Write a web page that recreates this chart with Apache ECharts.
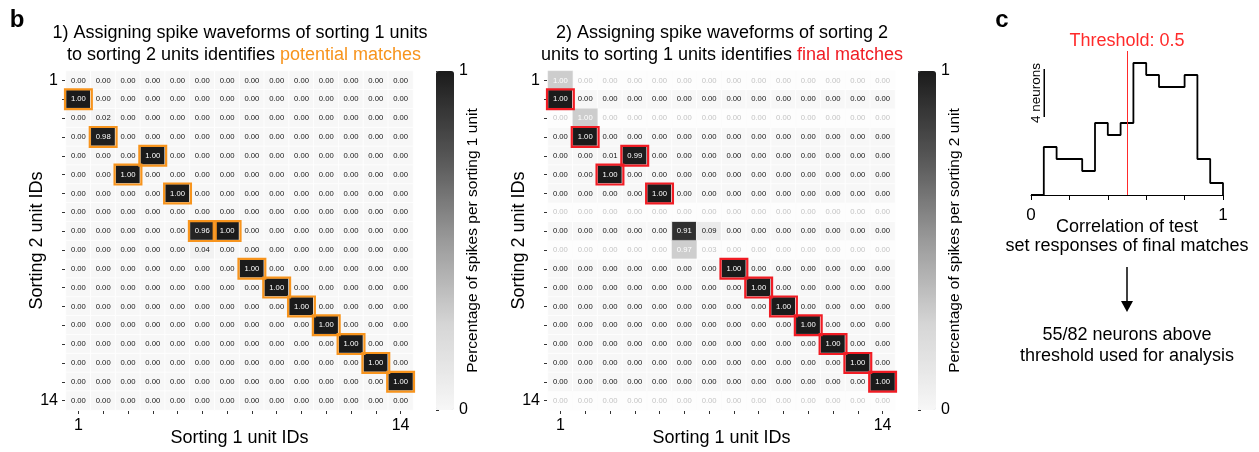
<!DOCTYPE html>
<html>
<head>
<meta charset="utf-8">
<script src="https://cdn.jsdelivr.net/npm/echarts@6/dist/echarts.min.js"></script>
<style>
  html, body { margin: 0; padding: 0; background: #ffffff; }
  #chart { width: 1259px; height: 452px; }
</style>
</head>
<body>
<div id="chart"></div>
<script>
const FONT = '"Liberation Sans", Arial, Helvetica, sans-serif';

// Unit IDs: columns are sorting 1 units, rows are sorting 2 units
const sorting1Ids = ['1','2','3','4','5','6','7','8','9','10','11','12','13','14'];
const sorting2Ids = ['1','2','3','4','5','6','7','8','9','10','11','12','13','14','15','16','17','18'];
const xTickLabels = ['1','','','','','','','','','','','','','14'];
const yTickLabels = ['1','','','','','','','','','','','','','','','','','14'];

// Fraction of spikes of each sorting 1 unit assigned to each sorting 2 unit (row = sorting 2 unit)
const spikes1to2 = [
  [0,0,0,0,0,0,0,0,0,0,0,0,0,0],
  [1,0,0,0,0,0,0,0,0,0,0,0,0,0],
  [0,0.02,0,0,0,0,0,0,0,0,0,0,0,0],
  [0,0.98,0,0,0,0,0,0,0,0,0,0,0,0],
  [0,0,0,1,0,0,0,0,0,0,0,0,0,0],
  [0,0,1,0,0,0,0,0,0,0,0,0,0,0],
  [0,0,0,0,1,0,0,0,0,0,0,0,0,0],
  [0,0,0,0,0,0,0,0,0,0,0,0,0,0],
  [0,0,0,0,0,0.96,1,0,0,0,0,0,0,0],
  [0,0,0,0,0,0.04,0,0,0,0,0,0,0,0],
  [0,0,0,0,0,0,0,1,0,0,0,0,0,0],
  [0,0,0,0,0,0,0,0,1,0,0,0,0,0],
  [0,0,0,0,0,0,0,0,0,1,0,0,0,0],
  [0,0,0,0,0,0,0,0,0,0,1,0,0,0],
  [0,0,0,0,0,0,0,0,0,0,0,1,0,0],
  [0,0,0,0,0,0,0,0,0,0,0,0,1,0],
  [0,0,0,0,0,0,0,0,0,0,0,0,0,1],
  [0,0,0,0,0,0,0,0,0,0,0,0,0,0]
];

// Fraction of spikes of each sorting 2 unit assigned to each sorting 1 unit
const spikes2to1 = [
  [1,0,0,0,0,0,0,0,0,0,0,0,0,0],
  [1,0,0,0,0,0,0,0,0,0,0,0,0,0],
  [0,1,0,0,0,0,0,0,0,0,0,0,0,0],
  [0,1,0,0,0,0,0,0,0,0,0,0,0,0],
  [0,0,0.01,0.99,0,0,0,0,0,0,0,0,0,0],
  [0,0,1,0,0,0,0,0,0,0,0,0,0,0],
  [0,0,0,0,1,0,0,0,0,0,0,0,0,0],
  [0,0,0,0,0,0,0,0,0,0,0,0,0,0],
  [0,0,0,0,0,0.91,0.09,0,0,0,0,0,0,0],
  [0,0,0,0,0,0.97,0.03,0,0,0,0,0,0,0],
  [0,0,0,0,0,0,0,1,0,0,0,0,0,0],
  [0,0,0,0,0,0,0,0,1,0,0,0,0,0],
  [0,0,0,0,0,0,0,0,0,1,0,0,0,0],
  [0,0,0,0,0,0,0,0,0,0,1,0,0,0],
  [0,0,0,0,0,0,0,0,0,0,0,1,0,0],
  [0,0,0,0,0,0,0,0,0,0,0,0,1,0],
  [0,0,0,0,0,0,0,0,0,0,0,0,0,1],
  [0,0,0,0,0,0,0,0,0,0,0,0,0,0]
];

// Matched cells as [sorting 1 unit, sorting 2 unit]
const potentialMatches = [[1,2],[2,4],[4,5],[3,6],[5,7],[6,9],[7,9],[8,11],[9,12],[10,13],[11,14],[12,15],[13,16],[14,17]];
const finalMatches = [[1,2],[2,4],[4,5],[3,6],[5,7],[8,11],[9,12],[10,13],[11,14],[12,15],[13,16],[14,17]];
// Sorting 2 units shown dimmed in the second matrix
const dimmedRows = [1, 3, 8, 10, 18];

// Histogram of test-set response correlations of final matches (15 bins over 0..1)
const corrCounts = [0,4,3,3,2,6,5,6,11,10,9,9,10,3,1];
const threshold = 0.5;
const scaleBarNeurons = 4;

const ORANGE = '#f7941d';
const RED = '#f01c24';
const GREYS = ['#f7f7f7', '#d6d6d6', '#9a9a9a', '#555555', '#1b1b1b'];

function heatData(matrix, dimRows) {
  const out = [];
  matrix.forEach((row, r) => {
    row.forEach((v, c) => {
      const dim = dimRows && dimRows.indexOf(r + 1) >= 0;
      const item = {
        value: [c, r, v],
        label: { color: v > 0.5 ? '#ffffff' : (dim ? '#c4c4c4' : '#161616'), opacity: 1 }
      };
      if (dim) item.itemStyle = { opacity: 0.22 };
      out.push(item);
    });
  });
  return out;
}

function matchBox(color) {
  return function (params, api) {
    const p = api.coord([api.value(0), api.value(1)]);
    const s = api.size([1, 1]);
    return {
      type: 'rect',
      shape: { x: p[0] - s[0] / 2 - 1, y: p[1] - s[1] / 2 - 0.5, width: s[0] + 2, height: s[1] + 1 },
      style: { fill: 'none', stroke: color, lineWidth: 2.2 }
    };
  };
}

function catX(gridIndex, name) {
  return {
    type: 'category', gridIndex, data: sorting1Ids,
    offset: 1,
    axisLine: { show: false },
    axisTick: { show: true, alignWithLabel: true, interval: 0, length: 3, lineStyle: { color: '#333', width: 1 } },
    axisLabel: { interval: 0, margin: 7, fontSize: 16, color: '#000', fontFamily: FONT,
                 formatter: (v, i) => xTickLabels[i] },
    splitLine: { show: false },
    name, nameLocation: 'middle', nameGap: 18, nameMoveOverlap: false,
    nameTextStyle: { fontSize: 18, color: '#000', fontFamily: FONT }
  };
}

function catY(gridIndex, name) {
  return {
    type: 'category', gridIndex, data: sorting2Ids, inverse: true,
    offset: 1,
    axisLine: { show: false },
    axisTick: { show: true, alignWithLabel: true, interval: 0, length: 3, lineStyle: { color: '#333', width: 1 } },
    axisLabel: { interval: 0, margin: 7, fontSize: 16, color: '#000', fontFamily: FONT,
                 formatter: (v, i) => yTickLabels[i] },
    splitLine: { show: false },
    name, nameLocation: 'middle', nameGap: 19, nameRotate: 90, nameMoveOverlap: false,
    nameTextStyle: { fontSize: 18, color: '#000', fontFamily: FONT }
  };
}

function colorbarAxis(gridIndex, name) {
  return {
    type: 'value', gridIndex, min: 0, max: 1, interval: 0.2, position: 'right',
    axisLine: { show: false },
    axisTick: { show: true, length: 3, lineStyle: { color: '#333' } },
    axisLabel: { margin: 5, fontSize: 16, color: '#000', fontFamily: FONT,
                 formatter: v => (v === 0 ? '0' : (v === 1 ? '1' : '')) },
    splitLine: { show: false },
    name, nameLocation: 'middle', nameGap: 11, nameRotate: 90, nameMoveOverlap: false,
    nameTextStyle: { fontSize: 15.5, color: '#000', fontFamily: FONT }
  };
}

function heatSeries(xi, data) {
  return {
    type: 'heatmap', xAxisIndex: xi, yAxisIndex: xi, data,
    itemStyle: { borderColor: '#ffffff', borderWidth: 0.8 },
    label: { show: true, fontSize: 7.7, fontFamily: FONT, formatter: p => p.value[2].toFixed(2) },
    emphasis: { disabled: true }
  };
}

const stepData = corrCounts.map((c, i) => [i / corrCounts.length, c]);
stepData.push([1, 0]);

const chart = echarts.init(document.getElementById('chart'), null, { renderer: 'canvas' });

const gridBase = { outerBoundsMode: 'none', containLabel: false };

chart.setOption({
  animation: false,
  backgroundColor: '#ffffff',
  textStyle: { fontFamily: FONT },
  grid: [
    Object.assign({ left: 66, top: 71, width: 347, height: 339 }, gridBase),
    Object.assign({ left: 548, top: 71, width: 347, height: 339 }, gridBase),
    Object.assign({ left: 1031, top: 51, width: 192, height: 144 }, gridBase),
    Object.assign({ left: 436, top: 71, width: 18, height: 339 }, gridBase),
    Object.assign({ left: 918, top: 71, width: 18, height: 339 }, gridBase)
  ],
  xAxis: [
    catX(0, 'Sorting 1 unit IDs'),
    catX(1, 'Sorting 1 unit IDs'),
    {
      type: 'value', gridIndex: 2, min: 0, max: 1, interval: 0.2, offset: 4,
      axisLine: { show: true, lineStyle: { color: '#000', width: 1 } },
      axisTick: { show: true, length: 5, lineStyle: { color: '#000', width: 1 } },
      axisLabel: { margin: 8, fontSize: 17, color: '#000', fontFamily: FONT,
                   formatter: v => (v === 0 ? '0' : (v === 1 ? '1' : '')) },
      splitLine: { show: false },
      name: 'Correlation of test\nset responses of final matches',
      nameLocation: 'middle', nameGap: 19, nameMoveOverlap: false,
      nameTextStyle: { fontSize: 18, lineHeight: 19, color: '#000', fontFamily: FONT }
    },
    { type: 'value', gridIndex: 3, show: false, min: 0, max: 1 },
    { type: 'value', gridIndex: 4, show: false, min: 0, max: 1 }
  ],
  yAxis: [
    catY(0, 'Sorting 2 unit IDs'),
    catY(1, 'Sorting 2 unit IDs'),
    { type: 'value', gridIndex: 2, min: 0, max: 12, show: false },
    colorbarAxis(3, 'Percentage of spikes per sorting 1 unit'),
    colorbarAxis(4, 'Percentage of spikes per sorting 2 unit')
  ],
  visualMap: [
    { type: 'continuous', seriesIndex: 0, min: 0, max: 1, show: true, calculable: false,
      orient: 'vertical', left: 436, top: 71, itemWidth: 18, itemHeight: 339, padding: 0,
      text: null, inRange: { color: GREYS } },
    { type: 'continuous', seriesIndex: 2, min: 0, max: 1, show: true, calculable: false,
      orient: 'vertical', left: 918, top: 71, itemWidth: 18, itemHeight: 339, padding: 0,
      text: null, inRange: { color: GREYS } }
  ],
  series: [
    heatSeries(0, heatData(spikes1to2, null)),
    {
      type: 'custom', xAxisIndex: 0, yAxisIndex: 0, z: 5,
      data: potentialMatches.map(m => [m[0] - 1, m[1] - 1]),
      renderItem: matchBox(ORANGE), silent: true
    },
    heatSeries(1, heatData(spikes2to1, dimmedRows)),
    {
      type: 'custom', xAxisIndex: 1, yAxisIndex: 1, z: 5,
      data: finalMatches.map(m => [m[0] - 1, m[1] - 1]),
      renderItem: matchBox(RED), silent: true
    },
    {
      type: 'line', xAxisIndex: 2, yAxisIndex: 2, step: 'end', data: stepData,
      showSymbol: false, symbol: 'none', clip: false,
      lineStyle: { color: '#000', width: 1.8 },
      markLine: {
        silent: true, symbol: ['none', 'none'],
        lineStyle: { color: '#ff2a2a', width: 1, type: 'solid' },
        label: { show: true, position: 'end', distance: 1, formatter: 'Threshold: ' + threshold,
                 color: '#ff2a2a', fontSize: 18, fontFamily: FONT },
        data: [{ xAxis: threshold }]
      }
    },
    {
      type: 'custom', xAxisIndex: 2, yAxisIndex: 2, silent: true,
      data: [[0.069, 6.5, 6.5 + scaleBarNeurons]],
      renderItem: function (params, api) {
        const lo = api.coord([api.value(0), api.value(1)]);
        const hi = api.coord([api.value(0), api.value(2)]);
        return {
          type: 'group',
          children: [
            { type: 'line', shape: { x1: lo[0], y1: lo[1], x2: hi[0], y2: hi[1] },
              style: { stroke: '#000', lineWidth: 1.5 } },
            { type: 'text', x: lo[0] - 7.5, y: (lo[1] + hi[1]) / 2, rotation: Math.PI / 2,
              style: { text: scaleBarNeurons + ' neurons', textAlign: 'center', textVerticalAlign: 'middle',
                       fontSize: 13.5, fontFamily: FONT, fill: '#000' } }
          ]
        };
      }
    }
  ],
  graphic: [
    { type: 'text', x: 17, y: 20, style: { text: 'b', fontSize: 24, fontWeight: 'bold', fontFamily: FONT,
      fill: '#000', textAlign: 'center', textVerticalAlign: 'middle' } },
    { type: 'text', x: 1002, y: 20, style: { text: 'c', fontSize: 24, fontWeight: 'bold', fontFamily: FONT,
      fill: '#000', textAlign: 'center', textVerticalAlign: 'middle' } },
    { type: 'text', x: 240, y: 33, style: { text: '1) Assigning spike waveforms of sorting 1 units',
      fontSize: 18, fontFamily: FONT, fill: '#000', textAlign: 'center', textVerticalAlign: 'middle' } },
    { type: 'text', x: 244, y: 55, style: { text: 'to sorting 2 units identifies {o|potential matches}',
      fontSize: 18, fontFamily: FONT, fill: '#000', textAlign: 'center', textVerticalAlign: 'middle',
      rich: { o: { fill: ORANGE, fontSize: 18, fontFamily: FONT } } } },
    { type: 'text', x: 722, y: 33, style: { text: '2) Assigning spike waveforms of sorting 2',
      fontSize: 18, fontFamily: FONT, fill: '#000', textAlign: 'center', textVerticalAlign: 'middle' } },
    { type: 'text', x: 722, y: 55, style: { text: 'units to sorting 1 units identifies {r|final matches}',
      fontSize: 18, fontFamily: FONT, fill: '#000', textAlign: 'center', textVerticalAlign: 'middle',
      rich: { r: { fill: RED, fontSize: 18, fontFamily: FONT } } } },
    { type: 'line', shape: { x1: 1127, y1: 267, x2: 1127, y2: 302 }, style: { stroke: '#000', lineWidth: 1.5 } },
    { type: 'polygon', shape: { points: [[1121, 301], [1133, 301], [1127, 312]] }, style: { fill: '#000' } },
    { type: 'text', x: 1127, y: 346, style: { text: '55/82 neurons above\nthreshold used for analysis',
      fontSize: 18, lineHeight: 21, fontFamily: FONT, fill: '#000', textAlign: 'center', textVerticalAlign: 'middle' } }
  ]
});
</script>
</body>
</html>
